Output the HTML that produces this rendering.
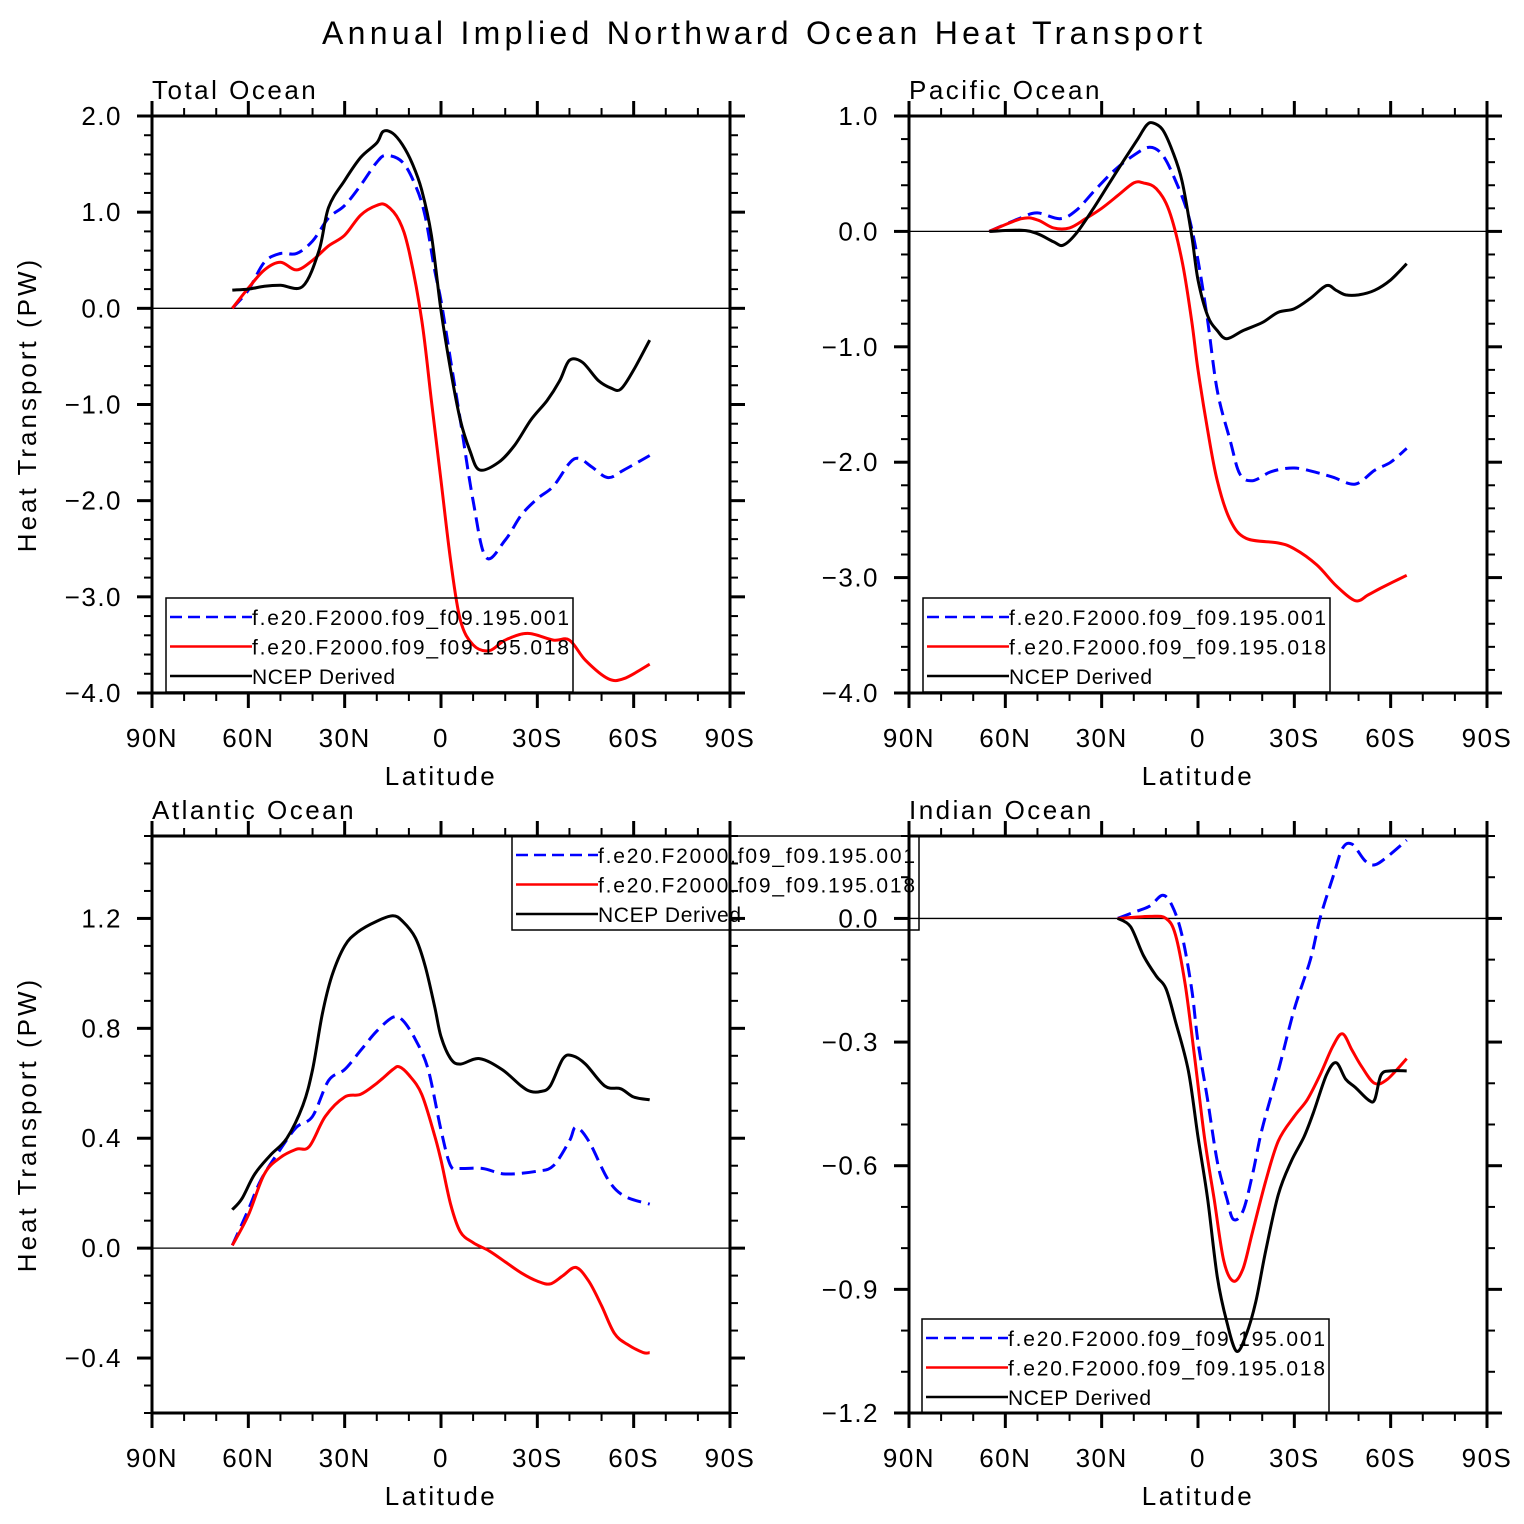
<!DOCTYPE html>
<html><head><meta charset="utf-8"><style>
body{margin:0;background:#fff;}
svg{display:block;font-family:"Liberation Sans","DejaVu Sans",sans-serif;}
</style></head><body>
<svg id="chart" width="1524" height="1524" viewBox="0 0 1524 1524" xmlns="http://www.w3.org/2000/svg">
<rect width="1524" height="1524" fill="#fff"/>
<text x="762" y="44" font-size="32" text-anchor="middle" textLength="880" lengthAdjust="spacing">Annual Implied Northward Ocean Heat Transport</text>
</svg>
<script>
const NS="http://www.w3.org/2000/svg";
const svg=document.getElementById('chart');
// ---- data (latitude: + = N, - = S) ----
const totBlueLat=[65,60,55,50,45,40,35,30,25,20,17,12,8,5,2,0,-3,-6,-10,-14,-20,-25,-30,-35,-40,-43,-47,-52,-57,-65];
const totBlueVal=[0,0.19,0.48,0.57,0.57,0.7,0.94,1.07,1.28,1.52,1.59,1.52,1.28,0.97,0.4,0.08,-0.54,-1.16,-2.0,-2.59,-2.41,-2.15,-1.98,-1.85,-1.61,-1.56,-1.65,-1.76,-1.68,-1.53];
const totRedLat=[65,60,55,50,45,40,35,30,25,20,17,13,10,6,3,0,-3,-6,-10,-15,-20,-27,-35,-40,-45,-52,-57,-65];
const totRedVal=[0,0.21,0.4,0.48,0.4,0.5,0.65,0.76,0.97,1.07,1.07,0.91,0.6,-0.12,-0.96,-1.79,-2.62,-3.24,-3.5,-3.56,-3.45,-3.38,-3.45,-3.45,-3.66,-3.85,-3.85,-3.7];
const totBlackLat=[65,60,55,50,43,38,35,30,25,20,18,15,12,9,6,3,0,-3,-6,-9,-12,-18,-23,-28,-33,-37,-40,-44,-49,-53,-56,-60,-65];
const totBlackVal=[0.19,0.2,0.23,0.24,0.23,0.6,1.05,1.33,1.57,1.72,1.84,1.82,1.7,1.51,1.23,0.76,-0.02,-0.64,-1.16,-1.48,-1.68,-1.6,-1.42,-1.16,-0.96,-0.75,-0.54,-0.56,-0.75,-0.83,-0.84,-0.64,-0.33];

const pacBlueLat=[65,55,50,43,38,32,26,20,15,11,7,3,0,-3,-6,-10,-13,-17,-23,-30,-37,-42,-49,-55,-60,-65];
const pacBlueVal=[0,0.12,0.16,0.11,0.18,0.36,0.53,0.66,0.73,0.66,0.44,0.14,-0.25,-0.77,-1.38,-1.81,-2.1,-2.16,-2.08,-2.05,-2.09,-2.13,-2.19,-2.07,-2.0,-1.88];
const pacRedLat=[65,55,50,45,40,35,30,25,20,17,13,9,5,2,0,-3,-6,-10,-15,-25,-30,-37,-43,-49,-53,-57,-65];
const pacRedVal=[0,0.11,0.1,0.03,0.03,0.11,0.2,0.31,0.42,0.42,0.37,0.18,-0.25,-0.77,-1.2,-1.72,-2.16,-2.5,-2.66,-2.7,-2.75,-2.89,-3.07,-3.2,-3.15,-3.09,-2.98];
const pacBlackLat=[65,55,50,45,42,38,33,28,23,19,16,14,11,8,5,2,0,-3,-6,-9,-14,-20,-25,-30,-35,-40,-43,-46,-50,-55,-60,-65];
const pacBlackVal=[0,0.01,-0.02,-0.09,-0.12,-0.02,0.18,0.4,0.62,0.79,0.92,0.94,0.88,0.7,0.44,-0.03,-0.42,-0.73,-0.86,-0.93,-0.86,-0.79,-0.7,-0.67,-0.58,-0.47,-0.51,-0.55,-0.55,-0.51,-0.42,-0.28];

const atlBlueLat=[65,60,56,50,45,40,35,30,25,20,15,12,8,4,0,-3,-6,-13,-20,-30,-35,-40,-42,-46,-52,-57,-65];
const atlBlueVal=[0.01,0.14,0.25,0.36,0.44,0.48,0.61,0.65,0.72,0.79,0.84,0.83,0.76,0.65,0.43,0.3,0.29,0.29,0.27,0.28,0.3,0.39,0.44,0.39,0.25,0.19,0.16];
const atlRedLat=[65,60,55,50,45,41,36,30,25,20,15,13,10,6,2,0,-3,-6,-10,-15,-20,-25,-30,-34,-38,-42,-46,-50,-54,-58,-63,-65];
const atlRedVal=[0.01,0.12,0.27,0.33,0.36,0.37,0.48,0.55,0.56,0.6,0.65,0.66,0.63,0.56,0.41,0.32,0.16,0.06,0.02,-0.01,-0.05,-0.09,-0.12,-0.13,-0.1,-0.07,-0.12,-0.21,-0.31,-0.35,-0.38,-0.38];
const atlBlackLat=[65,62,58,53,48,43,40,37,34,30,26,20,15,12,8,5,2,0,-3,-6,-12,-19,-25,-28,-31,-34,-38,-41,-45,-51,-56,-60,-65];
const atlBlackVal=[0.14,0.18,0.27,0.34,0.4,0.52,0.65,0.85,0.99,1.1,1.15,1.19,1.21,1.19,1.13,1.03,0.88,0.77,0.69,0.67,0.69,0.65,0.59,0.57,0.57,0.59,0.69,0.7,0.67,0.59,0.58,0.55,0.54];

const indBlueLat=[25,20,15,11,8,5,2,0,-3,-6,-9,-11,-14,-17,-20,-25,-30,-35,-38,-42,-45,-48,-52,-55,-59,-65];
const indBlueVal=[0,0.015,0.03,0.056,0.03,-0.04,-0.17,-0.3,-0.44,-0.59,-0.68,-0.73,-0.71,-0.62,-0.51,-0.37,-0.22,-0.1,0,0.1,0.17,0.18,0.14,0.13,0.15,0.19];
const indRedLat=[25,15,10,7,4,1,-2,-5,-8,-11,-14,-17,-21,-25,-30,-34,-38,-42,-45,-48,-51,-55,-59,-65];
const indRedVal=[0,0.005,0,-0.04,-0.16,-0.34,-0.53,-0.68,-0.83,-0.88,-0.85,-0.76,-0.64,-0.54,-0.48,-0.44,-0.38,-0.31,-0.28,-0.32,-0.36,-0.4,-0.39,-0.34];
const indBlackLat=[25,21,17,13,10,7,3,0,-3,-6,-9,-12,-15,-18,-21,-25,-29,-33,-36,-40,-43,-46,-49,-53,-55,-57,-60,-65];
const indBlackVal=[0,-0.02,-0.09,-0.14,-0.17,-0.25,-0.37,-0.53,-0.68,-0.87,-0.98,-1.05,-1.01,-0.93,-0.81,-0.67,-0.59,-0.53,-0.47,-0.38,-0.35,-0.39,-0.41,-0.44,-0.44,-0.38,-0.37,-0.37];

const xTickLabels=["90N","60N","30N","0","30S","60S","90S"];
const xTickLats=[90,60,30,0,-30,-60,-90];
const totYTicks=[2,1,0,-1,-2,-3,-4], totYLabels=["2.0","1.0","0.0","\u22121.0","\u22122.0","\u22123.0","\u22124.0"];
const pacYTicks=[1,0,-1,-2,-3,-4], pacYLabels=["1.0","0.0","\u22121.0","\u22122.0","\u22123.0","\u22124.0"];
const atlYTicks=[1.2,0.8,0.4,0,-0.4], atlYLabels=["1.2","0.8","0.4","0.0","\u22120.4"];
const indYTicks=[0,-0.3,-0.6,-0.9,-1.2], indYLabels=["0.0","\u22120.3","\u22120.6","\u22120.9","\u22121.2"];
const seriesNames=["f.e20.F2000.f09_f09.195.001","f.e20.F2000.f09_f09.195.018","NCEP Derived"];

function el(tag,attrs,parent){const e=document.createElementNS(NS,tag);for(const k in attrs)e.setAttribute(k,attrs[k]);(parent||svg).appendChild(e);return e;}

function smoothPath(P){
  let d='M'+P[0][0].toFixed(1)+','+P[0][1].toFixed(1);
  for(let i=0;i<P.length-1;i++){
    const p0=P[Math.max(0,i-1)],p1=P[i],p2=P[i+1],p3=P[Math.min(P.length-1,i+2)];
    const c1=[p1[0]+(p2[0]-p0[0])/6,p1[1]+(p2[1]-p0[1])/6];
    const c2=[p2[0]-(p3[0]-p1[0])/6,p2[1]-(p3[1]-p1[1])/6];
    d+=' C'+c1[0].toFixed(1)+','+c1[1].toFixed(1)+' '+c2[0].toFixed(1)+','+c2[1].toFixed(1)+' '+p2[0].toFixed(1)+','+p2[1].toFixed(1);
  }
  return d;
}

function panel(cfg){
  const g=el('g',{});
  
  
  const L=cfg.x0,R=cfg.x0+578,T=cfg.y0,B=cfg.y0+577;
  const xs=lat=>L+(90-lat)/180*(R-L);
  const ys=v=>T+(cfg.ymax-v)/(cfg.ymax-cfg.ymin)*(B-T);
  const z=el('line',{x1:L,x2:R,y1:ys(0),y2:ys(0),stroke:'#000','stroke-width':1.3},g);
  
  
  const styles=[{c:'#0000ff',d:'14 7'},{c:'#ff0000',d:''},{c:'#000',d:''}];
  const snames=['series-001-line','series-018-line','ncep-derived-line'];
  cfg.series.forEach((s,i)=>{
    const P=s[0].map((lat,j)=>[xs(lat),ys(s[1][j])]);
    const p=el('path',{d:smoothPath(P),fill:'none',stroke:styles[i].c,'stroke-width':3,'stroke-linejoin':'round'},g);
    if(styles[i].d)p.setAttribute('stroke-dasharray',styles[i].d);
    
    
  });
  const fr=el('rect',{x:L,y:T,width:R-L,height:B-T,fill:'none',stroke:'#000','stroke-width':3},g);
  
  
  for(let lat=90;lat>=-90;lat-=10){
    const maj=lat%30===0,len=maj?15:8,x=xs(lat);
    el('line',{x1:x,x2:x,y1:B,y2:B+len,stroke:'#000','stroke-width':maj?3:2},g);
    el('line',{x1:x,x2:x,y1:T,y2:T-len,stroke:'#000','stroke-width':maj?3:2},g);
  }
  xTickLats.forEach((lat,i)=>{
    const t=el('text',{x:xs(lat),y:B+54,'font-size':26,'text-anchor':'middle','letter-spacing':1.5},g);
    t.textContent=xTickLabels[i];
    
    
  });
  const xt=el('text',{x:(L+R)/2,y:B+92,'font-size':26,'text-anchor':'middle','letter-spacing':2.5},g);
  xt.textContent='Latitude';
  
  
  const n=Math.round((cfg.ymax-cfg.ymin)/cfg.minor);
  for(let k=0;k<=n;k++){
    const v=cfg.ymin+k*cfg.minor;
    const r=v/cfg.major, maj=Math.abs(r-Math.round(r))<1e-6;
    const len=maj?15:8,y=ys(v);
    el('line',{x1:L,x2:L-len,y1:y,y2:y,stroke:'#000','stroke-width':maj?3:2},g);
    el('line',{x1:R,x2:R+len,y1:y,y2:y,stroke:'#000','stroke-width':maj?3:2},g);
  }
  cfg.yt.forEach((v,i)=>{
    const t=el('text',{x:L-30,y:ys(v)+9,'font-size':26,'text-anchor':'end','letter-spacing':1.5},g);
    t.textContent=cfg.yl[i];
    
    
  });
  if(cfg.ytitle){
    const yt=el('text',{x:0,y:0,'font-size':26,'text-anchor':'middle','letter-spacing':3,transform:`translate(${L-116},${(T+B)/2}) rotate(-90)`},g);
    yt.textContent='Heat Transport (PW)';
    
    
  }
  const pt=el('text',{x:L,y:T-17,'font-size':26,'letter-spacing':2.5},g);
  pt.textContent=cfg.title;
  
  
  const lx=cfg.lx,ly=cfg.ly;
  const lg=el('g',{},svg);
  
  
  el('rect',{x:lx,y:ly,width:407,height:94,fill:'none',stroke:'#000','stroke-width':1.5},lg);
  const tl=[317,317,143];
  seriesNames.forEach((nm,i)=>{
    const yy=ly+19+i*29.5;
    const ln=el('line',{x1:lx+4,x2:lx+86,y1:yy,y2:yy,stroke:styles[i].c,'stroke-width':2.5},lg);
    if(styles[i].d)ln.setAttribute('stroke-dasharray','12 6');
    const t=el('text',{x:lx+86,y:yy+8,'font-size':21,textLength:tl[i],lengthAdjust:'spacing'},lg);
    t.textContent=nm;
    
    
  });
}
panel({name:'total-ocean-panel',title:'Total Ocean',x0:152,y0:116,ymax:2,ymin:-4,major:1,minor:0.2,yt:totYTicks,yl:totYLabels,ytitle:true,lx:166,ly:598,
  series:[[totBlueLat,totBlueVal],[totRedLat,totRedVal],[totBlackLat,totBlackVal]]});
panel({name:'pacific-ocean-panel',title:'Pacific Ocean',x0:909,y0:116,ymax:1,ymin:-4,major:1,minor:0.2,yt:pacYTicks,yl:pacYLabels,ytitle:false,lx:923,ly:598,
  series:[[pacBlueLat,pacBlueVal],[pacRedLat,pacRedVal],[pacBlackLat,pacBlackVal]]});
panel({name:'indian-ocean-panel',title:'Indian Ocean',x0:909,y0:836,ymax:0.2,ymin:-1.2,major:0.3,minor:0.1,yt:indYTicks,yl:indYLabels,ytitle:false,lx:922,ly:1319,
  series:[[indBlueLat,indBlueVal],[indRedLat,indRedVal],[indBlackLat,indBlackVal]]});
panel({name:'atlantic-ocean-panel',title:'Atlantic Ocean',x0:152,y0:836,ymax:1.5,ymin:-0.6,major:0.4,minor:0.1,yt:atlYTicks,yl:atlYLabels,ytitle:true,lx:512,ly:836,
  series:[[atlBlueLat,atlBlueVal],[atlRedLat,atlRedVal],[atlBlackLat,atlBlackVal]]});
</script>
</body></html>
